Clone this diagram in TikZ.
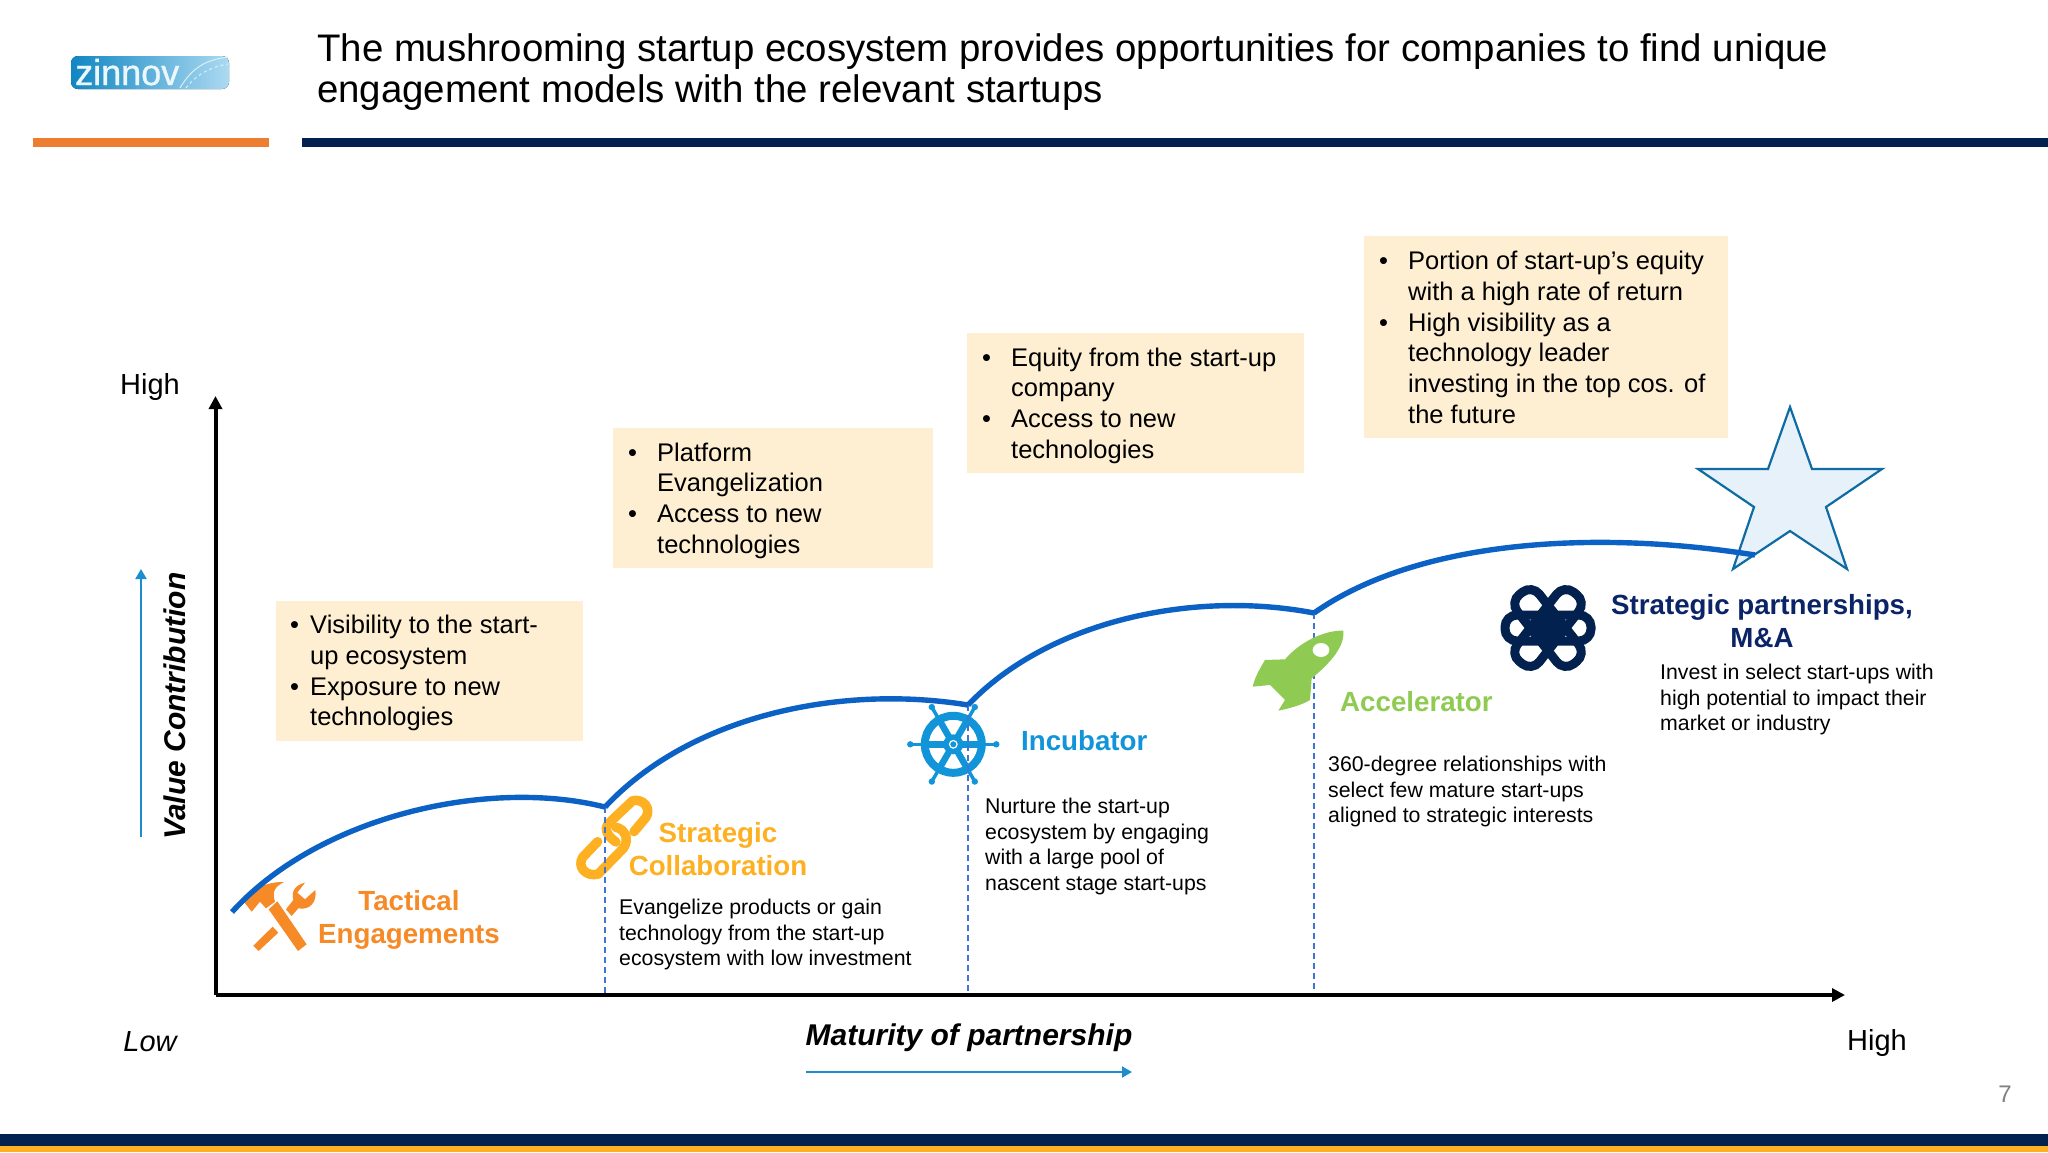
\documentclass[tikz,border=0pt]{standalone}
\usepackage{fontspec}
\setmainfont{Liberation Sans}
\usetikzlibrary{arrows.meta}
\definecolor{navy}{HTML}{03214F}
\definecolor{barorange}{HTML}{ED7D31}
\definecolor{baryellow}{HTML}{FDB022}
\definecolor{boxfill}{HTML}{FEEFD3}
\definecolor{curveblue}{HTML}{0B62C4}
\definecolor{dashblue}{HTML}{3F74D6}
\definecolor{arrowblue}{HTML}{1C8ECF}
\definecolor{tactical}{HTML}{F58A27}
\definecolor{incub}{HTML}{1295D8}
\definecolor{accel}{HTML}{8FCB52}
\definecolor{partner}{HTML}{0B2467}
\definecolor{starline}{HTML}{0F6BA3}
\definecolor{starfill}{HTML}{E6F1FA}
\newcommand{\bul}[1]{\llap{\makebox[#1][l]{•}}}
\tikzset{
  bar/.style={fill=#1,draw=none},
  benefit/.style={fill=boxfill,draw=none},
  bodytxt/.style={inner sep=0pt,anchor=north west,align=left,font=\fontsize{25.5}{30.7}\selectfont},
  desc/.style={inner sep=0pt,anchor=north west,align=left,font=\fontsize{21.3}{25.6}\selectfont},
  lab/.style={inner sep=0pt,align=center,font=\fontsize{27.7}{33}\selectfont\bfseries,text=#1},
  axlab/.style={inner sep=0pt,font=\fontsize{29}{33}\selectfont},
  curvepart/.style={draw=curveblue,line width=5.4pt},
  dashline/.style={draw=dashblue,line width=1.6pt,dash pattern=on 6pt off 4pt},
  axis/.style={draw=black,line width=4pt,-{Triangle[length=13pt,width=13pt]}},
  guide/.style={draw=arrowblue,line width=2pt,-{Triangle[length=10pt,width=11pt]}},
}
\begin{document}
\begin{tikzpicture}[x=1pt,y=-1pt]
\useasboundingbox (0,0) rectangle (2048,1152);
\fill[white] (0,0) rectangle (2048,1152);
% header
\fill[left color=incub!90!black,right color=incub!35!white,rounded corners=7pt] (71,56) rectangle (229,89);
\node[inner sep=0pt,anchor=base west,text=white!92!incub,font=\fontsize{36}{36}\selectfont\addfontfeature{FakeBold=1}] (logotext) at (75,85) {zinnov};
\draw[white!85!incub,line width=1pt] (180,88) .. controls (192,68) and (205,60) .. (228,57);
\draw[white!85!incub,line width=1pt,dashed] (186,88) .. controls (196,75) and (210,67) .. (228,64);
\node[inner sep=0pt,anchor=north west,align=left,font=\fontsize{38.4}{41}\selectfont] (title) at (317,33.5) {The mushrooming startup ecosystem provides opportunities for companies to find unique\\engagement models with the relevant startups};
\fill[bar=barorange] (33,138) rectangle (269,147);
\fill[bar=navy] (302,138) rectangle (2048,147);
\fill[bar=navy] (0,1134) rectangle (2048,1146);
\fill[bar=baryellow] (0,1146) rectangle (2048,1152);
% benefit boxes
\fill[benefit] (276,601) rectangle (583,741);
\fill[benefit] (613,428) rectangle (933,568);
\fill[benefit] (967,333) rectangle (1304,473);
\fill[benefit] (1364,236) rectangle (1728,438);
\node[bodytxt] (b1) at (310,615) {\bul{20pt}Visibility to the start-\\up ecosystem\\\bul{20pt}Exposure to new\\technologies};
\node[bodytxt] (b2) at (657,442.5) {\bul{29pt}Platform\\Evangelization\\\bul{29pt}Access to new\\technologies};
\node[bodytxt] (b3) at (1011,347.5) {\bul{29pt}Equity from the start-up\\company\\\bul{29pt}Access to new\\technologies};
\node[bodytxt] (b4) at (1408,251) {\bul{29pt}Portion of start-up’s equity\\with a high rate of return\\\bul{29pt}High visibility as a\\technology leader\\investing in the top cos. of\\the future};
% named points
\coordinate (origin) at (215.5,995);
\coordinate (ytop) at (215.5,396);
\coordinate (xend) at (1845,995);
\coordinate (c0) at (232,912);
\coordinate (c1) at (605,807);
\coordinate (c2) at (968,705);
\coordinate (c3) at (1314,613);
\coordinate (c4) at (1755,555);
\coordinate (d1) at (605,995);
\coordinate (d2) at (968,995);
\coordinate (d3) at (1314,995);
% star
\filldraw[fill=starfill,draw=starline,line width=2.2pt,line join=miter] (1790,407) -- (1812,469) -- (1882,469) -- (1826,507) -- (1847,569) -- (1790,531) -- (1733,569) -- (1754,507) -- (1698,469) -- (1768,469) -- cycle;
% chain icon
\begin{scope}[shift={(210,780)},x=0.3333pt,y=-0.3333pt,draw=baryellow,line width=9.5pt,line cap=round,line join=round]
\draw (1272,155) -- (1308,112) .. controls (1325,85) and (1300,55) .. (1268,62) -- (1196,130) .. controls (1180,150) and (1195,170) .. (1218,186);
\draw (1163,185) -- (1118,232) .. controls (1100,262) and (1130,292) .. (1165,282) -- (1240,205) .. controls (1262,175) and (1240,145) .. (1218,142);
\end{scope}
% ship wheel
\begin{scope}[shift={(953.3,744.3)},draw=incub,line cap=round]
\foreach \a in {0,60,...,300}{
  \draw[line width=6.5pt] (0,0) -- (\a:29);
  \draw[line width=3.5pt] (\a:29) -- (\a:43);
  \fill[incub] (\a:43) circle (3.2pt);
}
\draw[line width=8pt] (0,0) circle (28.5pt);
\fill[incub] (0,0) circle (10pt);
\draw[white,line width=1.2pt] (0,0) circle (3.8pt);
\end{scope}
% dashed guides
\draw[dashline] (c1) -- (d1);
\draw[dashline] (c2) -- (d2);
\draw[dashline] (c3) -- (d3);
% hammer and wrench
\begin{scope}[shift={(210,780)},x=0.3333pt,y=-0.3333pt]
\fill[tactical] (176,388) -- (202,364) -- (290,493) -- (264,513) -- cycle;
\fill[tactical] (103,367) -- (130,335) .. controls (150,315) and (190,305) .. (222,306) .. controls (195,320) and (185,335) .. (195,365) -- (168,385) -- (150,365) -- (125,395) -- cycle;
\fill[tactical] (130,497) -- (188,440) -- (205,458) -- (146,513) -- cycle;
\fill[tactical] (228,388) -- (250,360) .. controls (243,335) and (255,315) .. (285,308) -- (262,338) -- (285,358) -- (316,330) .. controls (322,365) and (300,392) .. (265,385) -- (245,408) -- cycle;
\end{scope}
% rocket
\begin{scope}[shift={(1230,590)},x=0.3333pt,y=-0.3333pt]
\fill[accel] (340,122) .. controls (290,120) and (215,150) .. (165,208) -- (105,210) .. controls (90,235) and (75,260) .. (68,290) -- (120,285) -- (165,330) -- (145,362) .. controls (180,355) and (215,345) .. (240,330) -- (245,265) .. controls (300,220) and (345,170) .. (340,122) -- cycle;
\fill[white] (273,180) ellipse [x radius=25,y radius=21];
\end{scope}
% knot
\begin{scope}[shift={(1548,628)},draw=navy,line width=9pt]
\draw[rounded corners=12pt] (-43,-13) rectangle (43,13);
\draw[rounded corners=12pt,rotate=52] (-44,-14) rectangle (44,14);
\draw[rounded corners=12pt,rotate=-52] (-44,-14) rectangle (44,14);
\fill[navy] (0,0) circle (15pt);
\end{scope}
% curves
\draw[curvepart] (c0) .. controls (320,815) and (490,778) .. (c1);
\draw[curvepart] (c1) .. controls (690,716) and (840,684) .. (c2);
\draw[curvepart] (c2) .. controls (1049,620) and (1195,590) .. (c3);
\draw[curvepart] (c3) .. controls (1413,543) and (1585,528) .. (c4);
% axes
\draw[axis] (origin) -- (ytop);
\draw[axis] (origin) -- (xend);
\draw[guide] (141,837) coordinate (vg0) -- (141,569) coordinate (vg1);
\draw[guide] (806,1072) coordinate (hg0) -- (1132,1072) coordinate (hg1);
% axis labels
\node[axlab] (high1) at (150,387) {High};
\node[axlab,font=\fontsize{29}{33}\selectfont\itshape] (low) at (150,1042) {Low};
\node[axlab] (high2) at (1877,1043) {High};
\node[axlab,font=\fontsize{30}{33}\selectfont\bfseries\itshape] (xtitle) at (969,1038) {Maturity of partnership};
\node[axlab,rotate=90,font=\fontsize{30}{33}\selectfont\bfseries\itshape] (ytitle) at (175,706) {Value Contribution};
\node[inner sep=0pt,text=black!50,font=\fontsize{24}{24}\selectfont] (pagenum) at (2005,1094) {7};
% stage labels
\node[lab=tactical] (l1) at (409,920) {Tactical\\Engagements};
\node[lab=baryellow] (l2) at (718,849) {Strategic\\Collaboration};
\node[lab=incub,anchor=west] (l3) at (1021,741) {Incubator};
\node[lab=accel,anchor=west] (l4) at (1340,702) {Accelerator};
\node[lab=partner] (l5) at (1762,621) {Strategic partnerships,\\M\&A};
% descriptions
\node[desc] (d1text) at (619,899) {Evangelize products or gain\\technology from the start-up\\ecosystem with low investment};
\node[desc] (d2text) at (985,798) {Nurture the start-up\\ecosystem by engaging\\with a large pool of\\nascent stage start-ups};
\node[desc] (d3text) at (1328,756) {360-degree relationships with\\select few mature start-ups\\aligned to strategic interests};
\node[desc] (d4text) at (1660,664) {Invest in select start-ups with\\high potential to impact their\\market or industry};
\end{tikzpicture}
\end{document}
